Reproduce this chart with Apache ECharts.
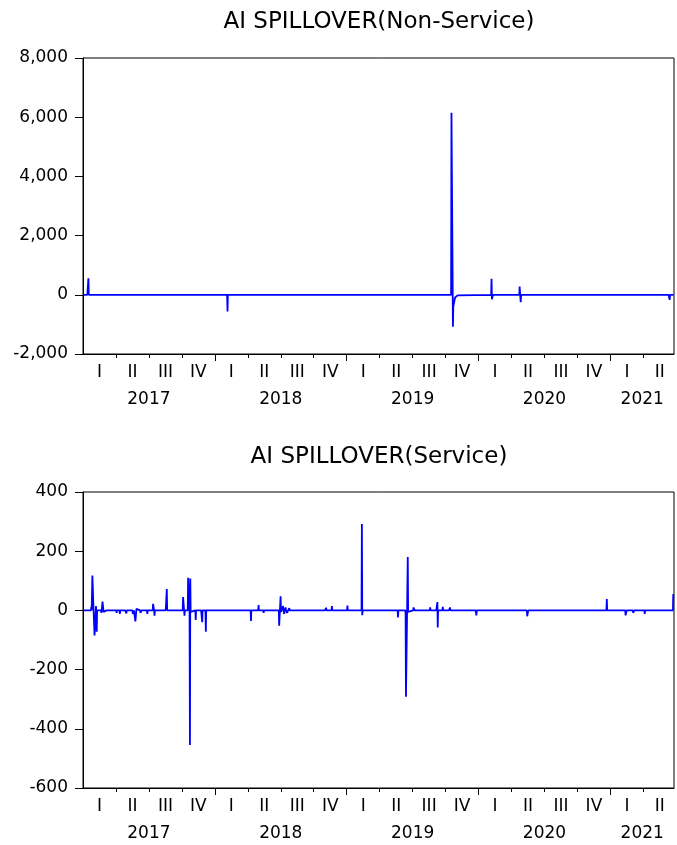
<!DOCTYPE html>
<html>
<head>
<meta charset="utf-8">
<script src="https://cdn.jsdelivr.net/npm/echarts@6/dist/echarts.min.js"></script>
<style>
  html, body { margin: 0; padding: 0; background: #fff; }
  #chart { width: 677px; height: 845px; }
</style>
</head>
<body>
<div id="chart"></div>
<script>
// tick labels
var quarterLabels = ['I', 'II', 'III', 'IV'];
var yearLabels = ['2017', '2018', '2019', '2020', '2021'];
var firstDay = '2017-01-01';
var lastDay = '2021-06-26';

// AI SPILLOVER (Non-Service) (one line = one blip)
var nsDates = [
  '2017-01-02',
  '2017-01-13', '2017-01-16', '2017-01-17',
  '2017-08-29', '2017-08-30', '2017-08-31',
  '2017-12-11', '2017-12-12', '2017-12-13',
  '2018-01-24', '2018-01-25', '2018-01-26',
  '2018-02-04', '2018-02-05', '2018-02-06',
  '2018-03-16', '2018-03-19', '2018-03-20',
  '2018-04-02', '2018-04-03', '2018-04-04',
  '2018-06-14', '2018-06-15', '2018-06-18',
  '2019-10-17', '2019-10-18', '2019-10-21', '2019-10-22', '2019-10-23', '2019-10-28', '2019-11-04', '2019-11-08',
  '2020-02-05', '2020-02-06', '2020-02-07', '2020-02-10',
  '2020-04-23', '2020-04-24', '2020-04-27', '2020-04-28',
  '2021-01-11', '2021-01-12', '2021-01-13',
  '2021-05-03', '2021-05-04', '2021-05-05',
  '2021-06-11', '2021-06-14', '2021-06-15',
  '2021-06-25'
];
var nsValues = [
  0,
  0, 560, 0,
  0, 20, 0,
  0, -15, 0,
  0, -15, 0,
  0, -560, 0,
  0, 45, 0,
  0, -20, 0,
  0, 12, 0,
  0, 6150, 810, -1080, -400, -90, -20, 0,
  0, 540, -150, 0,
  0, 280, -250, 0,
  0, 35, 0,
  0, 30, 0,
  0, -170, 0,
  0
];

// AI SPILLOVER (Service) (one line = one blip or cluster)
var svDates = [
  '2017-01-02',
  '2017-01-09', '2017-01-10', '2017-01-11',
  '2017-01-23', '2017-01-24', '2017-01-25',
  '2017-01-26', '2017-01-27', '2017-01-30', '2017-02-02', '2017-02-06', '2017-02-08', '2017-02-09',
  '2017-02-20', '2017-02-21', '2017-02-22',
  '2017-02-23', '2017-02-24', '2017-02-27', '2017-02-28',
  '2017-03-07', '2017-03-08', '2017-03-09',
  '2017-03-14', '2017-03-15', '2017-03-16',
  '2017-03-23', '2017-03-24', '2017-03-27',
  '2017-04-03', '2017-04-04', '2017-04-05',
  '2017-04-12', '2017-04-13', '2017-04-14',
  '2017-04-28', '2017-05-01', '2017-05-02',
  '2017-05-09', '2017-05-10', '2017-05-11',
  '2017-05-18', '2017-05-19', '2017-05-22',
  '2017-05-25', '2017-05-26', '2017-05-29', '2017-05-30',
  '2017-06-08', '2017-06-09', '2017-06-12',
  '2017-06-27', '2017-06-28', '2017-06-29',
  '2017-07-05', '2017-07-06', '2017-07-07',
  '2017-07-13', '2017-07-14', '2017-07-17', '2017-07-18', '2017-07-19',
  '2017-07-21', '2017-07-24', '2017-07-25',
  '2017-08-18', '2017-08-21', '2017-08-22',
  '2017-09-04', '2017-09-05', '2017-09-06',
  '2017-10-04', '2017-10-05', '2017-10-09', '2017-10-10',
  '2017-10-18', '2017-10-19', '2017-10-23', '2017-10-24', '2017-10-25', '2017-10-26', '2017-10-27',
  '2017-11-08', '2017-11-09', '2017-11-10',
  '2017-11-24', '2017-11-27', '2017-11-28',
  '2017-12-06', '2017-12-07', '2017-12-08',
  '2018-01-22', '2018-01-23', '2018-01-24',
  '2018-04-10', '2018-04-11', '2018-04-12',
  '2018-05-01', '2018-05-02', '2018-05-03',
  '2018-05-15', '2018-05-16', '2018-05-17',
  '2018-06-27', '2018-06-28', '2018-07-02', '2018-07-03', '2018-07-09', '2018-07-10',
  '2018-07-12', '2018-07-13', '2018-07-16', '2018-07-17', '2018-07-20', '2018-07-23',
  '2018-07-26', '2018-07-27',
  '2018-08-09', '2018-08-10', '2018-08-13',
  '2018-10-24', '2018-10-25', '2018-10-26',
  '2018-11-02', '2018-11-05', '2018-11-06',
  '2018-11-20', '2018-11-21', '2018-11-22',
  '2018-12-26', '2018-12-27', '2018-12-28',
  '2019-01-02', '2019-01-03', '2019-01-04',
  '2019-02-11', '2019-02-12', '2019-02-13', '2019-02-14',
  '2019-03-19', '2019-03-20', '2019-03-21',
  '2019-04-09', '2019-04-10', '2019-04-11',
  '2019-05-22', '2019-05-23', '2019-05-24',
  '2019-06-12', '2019-06-13', '2019-06-14', '2019-06-17', '2019-06-19', '2019-06-20', '2019-06-21',
  '2019-07-04', '2019-07-05', '2019-07-08',
  '2019-08-19', '2019-08-20', '2019-08-21',
  '2019-09-06', '2019-09-09', '2019-09-10', '2019-09-11',
  '2019-09-23', '2019-09-24', '2019-09-25',
  '2019-10-11', '2019-10-14', '2019-10-15',
  '2019-12-24', '2019-12-26', '2019-12-27',
  '2020-03-06', '2020-03-09', '2020-03-10',
  '2020-05-14', '2020-05-15', '2020-05-18',
  '2020-09-17', '2020-09-18', '2020-09-21',
  '2020-10-26', '2020-10-27', '2020-10-28',
  '2020-12-21', '2020-12-22', '2020-12-23',
  '2021-02-11', '2021-02-12', '2021-02-15',
  '2021-03-04', '2021-03-05', '2021-03-08',
  '2021-04-05', '2021-04-06', '2021-04-07',
  '2021-05-06', '2021-05-07', '2021-05-10',
  '2021-05-31', '2021-06-01', '2021-06-02',
  '2021-06-23', '2021-06-24'
];
var svValues = [
  0,
  0, -5, 0,
  0, 12, 0,
  0, 118, 10, -85, 15, -72, 0,
  0, -8, 0,
  0, 30, -5, 0,
  0, 5, 0,
  0, -5, 0,
  0, 5, 0,
  0, -8, 0,
  0, -12, 0,
  0, -10, 0,
  0, 5, 0,
  0, -12, 0,
  0, -37, 5, 0,
  0, -8, 0,
  0, -12, 0,
  0, -5, 0,
  0, 22, -2, -18, 0,
  0, 5, 0,
  0, 72, 0,
  0, 5, 0,
  0, 45, -18, 0,
  0, 110, -10, -455, 108, -5, 0,
  0, -32, 0,
  0, -40, 0,
  0, -72, 0,
  0, 6, 0,
  0, -36, 0,
  0, 18, 0,
  0, -8, 0,
  0, -52, 48, -5, 15, 0,
  -12, 0, 10, 0, -8, 0,
  8, 0,
  0, 5, 0,
  0, -5, 0,
  0, 9, 0,
  0, 15, 0,
  0, 5, 0,
  0, 16, 0,
  0, 292, -16, 0,
  0, -3, 0,
  0, 5, 0,
  0, -24, 0,
  0, -8, -292, -20, 180, -5, 0,
  0, 10, 0,
  0, 10, 0,
  0, 28, -58, 0,
  0, 12, 0,
  0, 10, 0,
  0, -17, 0,
  0, 4, 0,
  0, -20, 0,
  0, -6, 0,
  0, 4, 0,
  0, 38, 0,
  0, -17, 0,
  0, -8, 0,
  0, -12, 0,
  0, -6, 0,
  0, -4, 0,
  0, 55
];

// date string -> decimal year, so quarters are equal steps on a value axis
function toYear(s) {
  var p = s.split('-').map(Number);
  var start = Date.UTC(p[0], 0, 1);
  var end = Date.UTC(p[0] + 1, 0, 1);
  return p[0] + (Date.UTC(p[0], p[1] - 1, p[2]) - start) / (end - start);
}

var xMin = toYear(firstDay);
var xMax = toYear(lastDay);
var font = 'DejaVu Sans';

var quarterTicks = [], quarterMids = [], yearTicks = [], yearMids = [];
yearLabels.forEach(function (y) {
  var y0 = Number(y);
  if (y0 > xMin) yearTicks.push(y0);
  for (var q = 0; q < 4; q++) {
    var t = y0 + q * 0.25;
    if (t > xMin && t < xMax) quarterTicks.push(t);
    if (t + 0.125 < xMax) quarterMids.push(t + 0.125);
  }
  yearMids.push((Math.max(y0, xMin) + Math.min(y0 + 1, xMax)) / 2);
});

function pairs(dates, values) {
  return dates.map(function (d, i) { return [toYear(d), values[i]]; });
}

function xAxes(gridIndex) {
  return [
    {
      type: 'value', gridIndex: gridIndex, position: 'bottom', min: xMin, max: xMax,
      axisLine: { onZero: false, lineStyle: { color: '#000', width: 1 } },
      axisTick: { customValues: quarterTicks, length: 4, lineStyle: { color: '#000' } },
      axisLabel: {
        customValues: quarterMids, margin: 10, color: '#000', fontFamily: font, fontSize: 17,
        formatter: function (v) { return quarterLabels[Math.floor(v * 4 + 1e-6) % 4]; }
      },
      splitLine: { show: false }
    },
    {
      type: 'value', gridIndex: gridIndex, position: 'bottom', min: xMin, max: xMax,
      axisLine: { show: false, onZero: false },
      axisTick: { customValues: yearTicks, length: 7, lineStyle: { color: '#000' } },
      axisLabel: {
        customValues: yearMids, margin: 37, color: '#000', fontFamily: font, fontSize: 17,
        formatter: function (v) { return String(Math.floor(v)); }
      },
      splitLine: { show: false }
    }
  ];
}

function yAxis(gridIndex, min, max, step) {
  return {
    type: 'value', gridIndex: gridIndex, min: min, max: max, interval: step,
    axisLine: { show: true, lineStyle: { color: '#000', width: 1 } },
    axisTick: { show: true, length: 8, lineStyle: { color: '#000' } },
    axisLabel: {
      margin: 15, color: '#000', fontFamily: font, fontSize: 17,
      formatter: function (v) { return echarts.format.addCommas(v); }
    },
    splitLine: { show: false }
  };
}

var chart = echarts.init(document.getElementById('chart'));
chart.setOption({
  animation: false,
  backgroundColor: '#fff',
  title: [
    {
      text: 'AI SPILLOVER(Non-Service)', left: 379, top: 11, textAlign: 'center', padding: 0,
      textStyle: { fontFamily: font, fontSize: 23, fontWeight: 'normal', color: '#000' }
    },
    {
      text: 'AI SPILLOVER(Service)', left: 379, top: 446, textAlign: 'center', padding: 0,
      textStyle: { fontFamily: font, fontSize: 23, fontWeight: 'normal', color: '#000' }
    }
  ],
  grid: [
    { left: 83, right: 3, top: 58, height: 296, show: true, borderColor: '#000', borderWidth: 1 },
    { left: 83, right: 3, top: 492, height: 296, show: true, borderColor: '#000', borderWidth: 1 }
  ],
  xAxis: xAxes(0).concat(xAxes(1)),
  yAxis: [yAxis(0, -2000, 8000, 2000), yAxis(1, -600, 400, 200)],
  series: [
    {
      name: 'AI SPILLOVER(Non-Service)', type: 'line', xAxisIndex: 0, yAxisIndex: 0,
      data: pairs(nsDates, nsValues), showSymbol: false,
      lineStyle: { color: '#0000ff', width: 1.8 }
    },
    {
      name: 'AI SPILLOVER(Service)', type: 'line', xAxisIndex: 2, yAxisIndex: 1,
      data: pairs(svDates, svValues), showSymbol: false,
      lineStyle: { color: '#0000ff', width: 1.8 }
    }
  ]
});
</script>
</body>
</html>
